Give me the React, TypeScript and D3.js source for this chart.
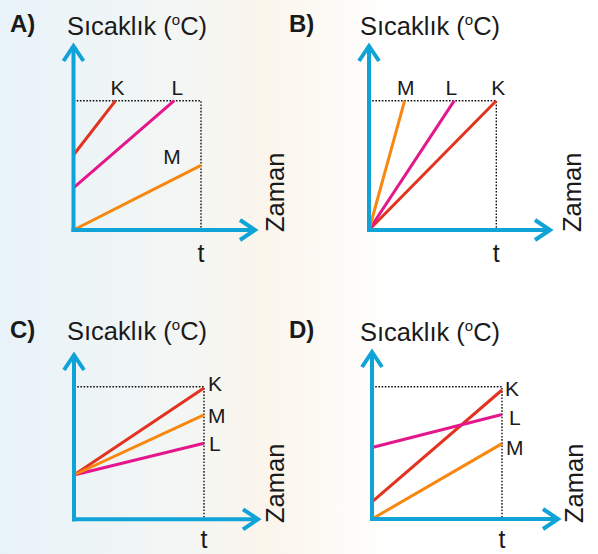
import React from "react";
import * as d3 from "d3";

// ---- data ----
const panelNames = ["A)", "B)", "C)", "D)"];
const seriesNames = ["K", "L", "M"];
const yAxisTitle = "Sıcaklık (";
const xAxisTitle = "Zaman";
const timeTick = "t";
// [startTime, startTemp, endTime, endTemp] per series K, L, M (t = 1, top dotted temperature = 1)
const panelAValues = [
  [0, 0.58, 0.33, 1],
  [0, 0.325, 0.79, 1],
  [0, 0, 1, 0.5],
];
const panelBValues = [
  [0, 0, 1, 1],
  [0, 0, 0.67, 1],
  [0, 0, 0.28, 1],
];
const panelCValues = [
  [0, 0.334, 1, 0.99],
  [0, 0.334, 1, 0.573],
  [0, 0.334, 1, 0.787],
];
const panelDValues = [
  [0, 0.13, 1, 0.975],
  [0, 0.54, 1, 0.79],
  [0, 0, 1, 0.57],
];
const allValues = [panelAValues, panelBValues, panelCValues, panelDValues];

// ---- styles / layout ----
const seriesColors: Record<string, string> = { K: "#e3321f", L: "#e5168c", M: "#f7870f" };
const axisColor = "#0fa3d7";
const font = "'Liberation Sans', Arial, Helvetica, sans-serif";

type Layout = {
  x0: number; x1: number; y0: number; y1: number;
  yTip: number; xTip: number;
  labelX: number; labelY: number;
  titleX: number; titleY: number;
  zamanX: number; zamanY: number;
  tY: number;
  labelMode: "top" | "right";
  labelOffsets: Record<string, [number, number]>;
};

const layouts: Layout[] = [
  {
    x0: 73.5, x1: 201, y0: 230, y1: 100.7, yTip: 46, xTip: 255,
    labelX: 10, labelY: 32, titleX: 67, titleY: 35, zamanX: 284, zamanY: 232, tY: 262,
    labelMode: "top",
    labelOffsets: { K: [2, -6], L: [3, -6], M: [-29, -1] },
  },
  {
    x0: 369, x1: 496.3, y0: 230, y1: 100.7, yTip: 46, xTip: 550,
    labelX: 289, labelY: 32, titleX: 360, titleY: 35, zamanX: 581, zamanY: 232, tY: 262,
    labelMode: "top",
    labelOffsets: { K: [2, -6], L: [-3, -6], M: [1, -6] },
  },
  {
    x0: 74, x1: 204, y0: 519.3, y1: 386.7, yTip: 355, xTip: 258,
    labelX: 10, labelY: 338, titleX: 67, titleY: 340, zamanX: 284, zamanY: 523, tY: 548,
    labelMode: "right",
    labelOffsets: { K: [4, 3], L: [5, 8], M: [4, 8] },
  },
  {
    x0: 372, x1: 502, y0: 519, y1: 386.7, yTip: 352, xTip: 558,
    labelX: 289, labelY: 338, titleX: 360, titleY: 341, zamanX: 583, zamanY: 523, tY: 548,
    labelMode: "right",
    labelOffsets: { K: [3, 6], L: [7, 11], M: [4, 11] },
  },
];

function Panel({ idx }: { idx: number }) {
  const L = layouts[idx];
  const values = allValues[idx];
  const x = d3.scaleLinear().domain([0, 1]).range([L.x0, L.x1]);
  const y = d3.scaleLinear().domain([0, 1]).range([L.y0, L.y1]);
  const line = d3.line<[number, number]>().x((d) => x(d[0])).y((d) => y(d[1]));

  return (
    <g>
      {/* panel label */}
      <text x={L.labelX} y={L.labelY} fontFamily={font} fontWeight="bold" fontSize={24} fill="#1a1a1a">
        {panelNames[idx]}
      </text>
      {/* y axis title */}
      <text x={L.titleX} y={L.titleY} fontFamily={font} fontSize={25.5} fill="#1a1a1a">
        {yAxisTitle}
        <tspan fontSize={15} dy={-10}>o</tspan>
        <tspan dy={10}>C)</tspan>
      </text>
      {/* dotted guides */}
      <path
        d={`M${x(0)},${y(1)}H${x(1)}V${y(0)}`}
        fill="none"
        stroke="#111"
        strokeWidth={1.4}
        strokeDasharray="1.6 1.6"
      />
      {/* series lines */}
      {values.map((v, i) => (
        <path
          key={seriesNames[i]}
          d={line([[v[0], v[1]], [v[2], v[3]]]) || ""}
          stroke={seriesColors[seriesNames[i]]}
          strokeWidth={3}
          fill="none"
        />
      ))}
      {/* axes */}
      <line x1={x(0)} y1={y(0) + 2} x2={x(0)} y2={L.yTip} stroke={axisColor} strokeWidth={4} />
      <polyline
        points={`${x(0) - 10},${L.yTip + 15} ${x(0)},${L.yTip} ${x(0) + 10},${L.yTip + 15}`}
        fill="none"
        stroke={axisColor}
        strokeWidth={4}
        strokeLinejoin="miter"
      />
      <line x1={x(0) - 2} y1={y(0)} x2={L.xTip} y2={y(0)} stroke={axisColor} strokeWidth={4} />
      <polyline
        points={`${L.xTip - 15},${y(0) - 10} ${L.xTip},${y(0)} ${L.xTip - 15},${y(0) + 10}`}
        fill="none"
        stroke={axisColor}
        strokeWidth={4}
        strokeLinejoin="miter"
      />
      {/* series labels */}
      {values.map((v, i) => {
        const name = seriesNames[i];
        const off = L.labelOffsets[name];
        const px = x(v[2]) + off[0];
        const py = y(v[3]) + off[1];
        return (
          <text
            key={"lab" + name}
            x={px}
            y={py}
            fontFamily={font}
            fontSize={21}
            fill="#1a1a1a"
            textAnchor={L.labelMode === "top" ? "middle" : "start"}
          >
            {name}
          </text>
        );
      })}
      {/* t tick label */}
      <text x={x(1)} y={L.tY} fontFamily={font} fontSize={25} fill="#1a1a1a" textAnchor="middle">
        {timeTick}
      </text>
      {/* x axis title */}
      <text
        transform={`translate(${L.zamanX},${L.zamanY}) rotate(-90)`}
        fontFamily={font}
        fontSize={25.5}
        fill="#1a1a1a"
      >
        {xAxisTitle}
      </text>
    </g>
  );
}

export default function App() {
  return (
    <svg
      width={598}
      height={554}
      viewBox="0 0 598 554"
      style={{ position: "absolute", left: 0, top: 0, display: "block" }}
    >
      <defs>
        <linearGradient id="bg" x1="0" y1="0" x2="1" y2="0">
          <stop offset="0%" stopColor="#e8f3f9" />
          <stop offset="30%" stopColor="#f3f6f4" />
          <stop offset="45%" stopColor="#fbf5ec" />
          <stop offset="65%" stopColor="#ffffff" />
          <stop offset="100%" stopColor="#ffffff" />
        </linearGradient>
      </defs>
      <rect width={598} height={554} fill="url(#bg)" />
      {layouts.map((_, i) => (
        <Panel key={i} idx={i} />
      ))}
    </svg>
  );
}
